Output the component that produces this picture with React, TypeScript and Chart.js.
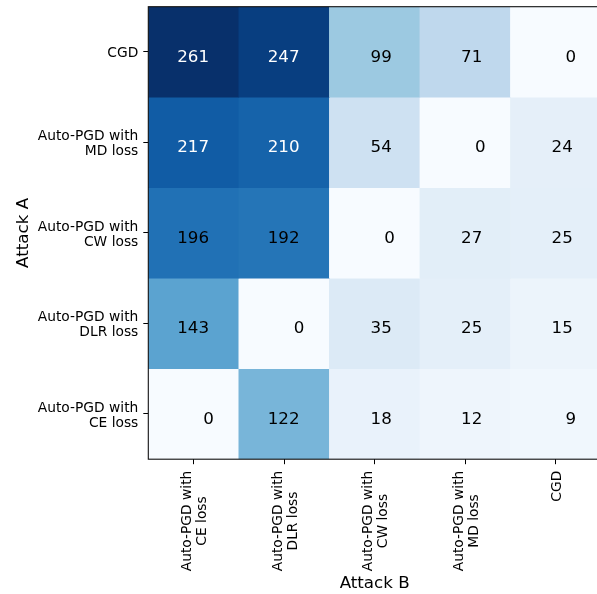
import React, { useEffect, useRef } from 'react';
import { Chart, registerables } from 'chart.js';

Chart.register(...registerables);

// ---- Data ----
const ATTACK_A: string[][] = [
  ['CGD'],
  ['Auto-PGD with', 'MD loss'],
  ['Auto-PGD with', 'CW loss'],
  ['Auto-PGD with', 'DLR loss'],
  ['Auto-PGD with', 'CE loss'],
];
const ATTACK_B: string[][] = [
  ['Auto-PGD with', 'CE loss'],
  ['Auto-PGD with', 'DLR loss'],
  ['Auto-PGD with', 'CW loss'],
  ['Auto-PGD with', 'MD loss'],
  ['CGD'],
];
const ROW_CGD = [261, 247, 99, 71, 0];
const ROW_MD = [217, 210, 54, 0, 24];
const ROW_CW = [196, 192, 0, 27, 25];
const ROW_DLR = [143, 0, 35, 25, 15];
const ROW_CE = [0, 122, 18, 12, 9];
const VALUES = [ROW_CGD, ROW_MD, ROW_CW, ROW_DLR, ROW_CE];

// ---- Style ----
const FONT = '"DejaVu Sans", "Liberation Sans", sans-serif';
const TICK_SIZE = 13.8;
const VMAX = Math.max(...VALUES.flat());
const BLUES: [number, number, number][] = [
  [0.968627, 0.984314, 1.0],
  [0.870588, 0.921569, 0.968627],
  [0.776471, 0.858824, 0.937255],
  [0.619608, 0.792157, 0.882353],
  [0.419608, 0.682353, 0.839216],
  [0.258824, 0.572549, 0.776471],
  [0.129412, 0.443137, 0.709804],
  [0.031373, 0.317647, 0.611765],
  [0.031373, 0.188235, 0.419608],
];
function blues(t: number): string {
  const x = Math.min(1, Math.max(0, t)) * (BLUES.length - 1);
  const i = Math.min(BLUES.length - 2, Math.floor(x));
  const f = x - i;
  const c = BLUES[i].map((a, k) => Math.round((a + (BLUES[i + 1][k] - a) * f) * 255));
  return `rgb(${c[0]},${c[1]},${c[2]})`;
}
const TEXT_OFFSET: Record<number, number> = { 1: 15, 2: 6.5, 3: -0.5 };

const heatPlugin = {
  id: 'heatPlugin',
  afterDatasetsDraw(chart: any) {
    const { ctx, scales } = chart;
    const xs = scales.x;
    const ys = scales.y;
    ctx.save();
    ctx.font = `16.7px ${FONT}`;
    ctx.textAlign = 'center';
    ctx.textBaseline = 'alphabetic';
    VALUES.forEach((row, r) => {
      row.forEach((v, c) => {
        const s = String(v);
        const x = xs.getPixelForValue(c) + (TEXT_OFFSET[s.length] ?? 0);
        const y = ys.getPixelForValue(r) + 10;
        ctx.fillStyle = v > 200 ? '#ffffff' : '#000000';
        ctx.fillText(s, x, y);
      });
    });
    ctx.restore();
  },
  afterDraw(chart: any) {
    const { ctx, chartArea, scales } = chart;
    const xs = scales.x;
    ctx.save();
    // spines
    ctx.strokeStyle = '#111111';
    ctx.lineWidth = 1.1;
    ctx.strokeRect(chartArea.left, chartArea.top, chartArea.right - chartArea.left, chartArea.bottom - chartArea.top);
    // rotated x tick labels (lines centred in block, block anchored at the top)
    ctx.font = `${TICK_SIZE}px ${FONT}`;
    ctx.fillStyle = '#000000';
    ctx.textAlign = 'center';
    ctx.textBaseline = 'alphabetic';
    const yTop = xs.top + 5 + 6.5;
    ATTACK_B.forEach((lines, i) => {
      const x = xs.getPixelForValue(i);
      const w = Math.max(...lines.map((l) => ctx.measureText(l).width));
      ctx.save();
      ctx.translate(x, yTop);
      ctx.rotate(-Math.PI / 2);
      lines.forEach((l, k) => {
        const off = (k - (lines.length - 1) / 2) * 15 + 4.9;
        ctx.fillText(l, -w / 2, off);
      });
      ctx.restore();
    });
    ctx.restore();
  },
};

export default function App() {
  const ref = useRef<HTMLCanvasElement | null>(null);
  useEffect(() => {
    document.body.style.margin = '0';
    document.body.style.overflow = 'hidden';
    document.documentElement.style.overflow = 'hidden';
    if (!ref.current) return;
    const chart = new Chart(ref.current, {
      type: 'bar',
      data: {
        labels: ATTACK_B.map((l) => l.join(' ')),
        datasets: VALUES.map((row, r) => ({
          label: ATTACK_A[r].join(' '),
          data: row.map(() => [r - 0.5, r + 0.5]),
          backgroundColor: row.map((v) => blues(v / VMAX)),
          borderWidth: 0,
          barPercentage: 1,
          categoryPercentage: 1,
          grouped: false,
        })) as any,
      },
      options: {
        responsive: false,
        animation: false,
        layout: { padding: { top: 6.7, right: 0, bottom: 0, left: 0 } },
        plugins: { legend: { display: false }, tooltip: { enabled: false } },
        scales: {
          x: {
            type: 'category',
            offset: true,
            grid: { offset: false, drawOnChartArea: false, drawTicks: true, tickLength: 5, color: '#000', lineWidth: 1 },
            border: { display: false },
            ticks: { display: false },
            title: { display: true, text: 'Attack B', color: '#000', font: { family: FONT, size: 16.7 }, padding: { top: 0, bottom: 0 } },
            afterFit(s: any) {
              s.height = 134.8;
              s.paddingLeft = 0;
              s.paddingRight = 0;
            },
          },
          y: {
            type: 'linear',
            min: -0.5,
            max: 4.5,
            reverse: true,
            afterBuildTicks(s: any) {
              s.ticks = ATTACK_A.map((_, i) => ({ value: i }));
            },
            grid: { drawOnChartArea: false, drawTicks: true, tickLength: 5, color: '#000', lineWidth: 1 },
            border: { display: false },
            ticks: {
              autoSkip: false,
              padding: 5,
              labelOffset: 1.5,
              color: '#000',
              font: { family: FONT, size: TICK_SIZE, lineHeight: 15 / TICK_SIZE },
              callback: (v: any) => ATTACK_A[v] ?? '',
            },
            title: { display: true, text: 'Attack A', color: '#000', font: { family: FONT, size: 16.7 }, padding: { top: 13.5, bottom: 0 } },
            afterFit(s: any) {
              s.width = 148.3;
              s.paddingTop = 0;
              s.paddingBottom = 0;
            },
          },
        } as any,
      },
      plugins: [heatPlugin],
    });
    return () => chart.destroy();
  }, []);
  return (
    <div style={{ width: 597, height: 594, overflow: 'hidden', position: 'relative' }}>
      <canvas ref={ref} width={601} height={594} style={{ display: 'block' }} />
    </div>
  );
}
